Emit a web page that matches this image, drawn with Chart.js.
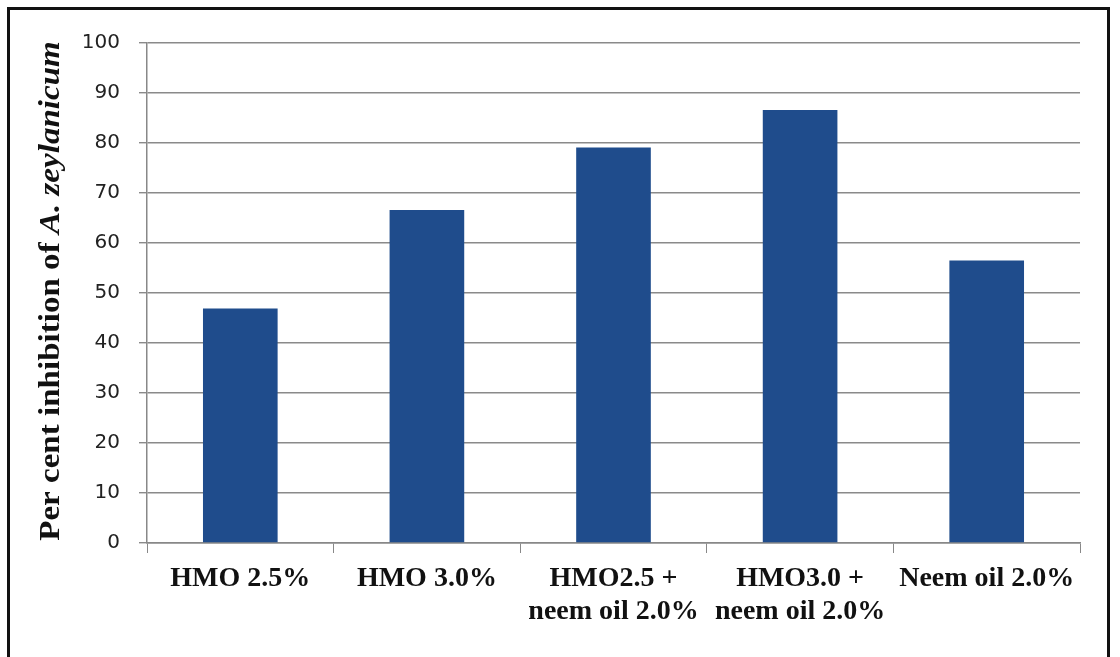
<!DOCTYPE html>
<html>
<head>
<meta charset="utf-8">
<script src="https://cdn.jsdelivr.net/npm/chart.js@4"></script>
<style>
  html, body { margin: 0; padding: 0; background: #fff; }
  #wrap { width: 1120px; height: 657px; }
</style>
</head>
<body>
<div id="wrap"><canvas id="my-chart" width="1120" height="657"></canvas></div>
<script>
// treatments and per cent inhibition
const treatments = [
  'HMO 2.5%',
  'HMO 3.0%',
  ['HMO2.5 +', 'neem oil 2.0%'],
  ['HMO3.0 +', 'neem oil 2.0%'],
  'Neem oil 2.0%'
];
const inhibition = [46.9, 66.6, 79.1, 86.6, 56.5];
const yTicks = [0, 10, 20, 30, 40, 50, 60, 70, 80, 90, 100];

// frame + mixed style axis title (plain bold, then italic species name)
const decor = {
  id: 'decor',
  afterDraw(chart) {
    const ctx = chart.ctx;
    const area = chart.chartArea;
    ctx.save();
    ctx.strokeStyle = '#111';
    ctx.lineWidth = 3;
    ctx.strokeRect(8.5, 8.5, 1100, 700);
    ctx.restore();

    const plain = 'Per cent inhibition of ';
    const ital = 'A. zeylanicum';
    const fPlain = 'bold 29px "Liberation Serif"';
    const fItal = 'italic bold 29px "Liberation Serif"';
    ctx.save();
    ctx.font = fPlain;
    const w1 = ctx.measureText(plain).width;
    ctx.font = fItal;
    const w2 = ctx.measureText(ital).width;
    ctx.translate(52, (area.top + area.bottom) / 2 - 2);
    ctx.rotate(-Math.PI / 2);
    ctx.scale(1.14, 1); // the scanned title is drawn a bit narrow/tall
    ctx.fillStyle = '#111';
    ctx.textBaseline = 'middle';
    ctx.textAlign = 'left';
    let x = -(w1 + w2) / 2;
    ctx.font = fPlain;
    ctx.fillText(plain, x, 0);
    ctx.font = fItal;
    ctx.fillText(ital, x + w1, 0);
    ctx.restore();
  }
};

const ctx = document.getElementById('my-chart').getContext('2d');
const chart = new Chart(ctx, {
  type: 'bar',
  data: {
    labels: treatments,
    datasets: [{
      label: 'Per cent inhibition',
      data: inhibition,
      backgroundColor: '#1F4C8C',
      borderWidth: 0,
      barPercentage: 0.5,
      categoryPercentage: 0.8
    }]
  },
  options: {
    responsive: false,
    animation: false,
    layout: { padding: { top: 43, right: 40, bottom: 0, left: 0 } },
    plugins: {
      legend: { display: false },
      tooltip: { enabled: false }
    },
    scales: {
      x: {
        grid: {
          offset: true,
          drawOnChartArea: false,
          tickLength: 10,
          color: '#888'
        },
        border: { color: '#888', width: 1.5 },
        ticks: {
          color: '#111',
          padding: 10,
          maxRotation: 0,
          autoSkip: false,
          font: { family: '"Liberation Serif"', weight: 'bold', size: 28, lineHeight: 1.15 }
        },
        afterFit(scale) { scale.height = 114; }
      },
      y: {
        min: 0,
        max: 100,
        afterBuildTicks(scale) { scale.ticks = yTicks.map(v => ({ value: v })); },
        grid: { color: '#8a8a8a', lineWidth: 1.4, tickLength: 8 },
        border: { color: '#888', width: 1.5 },
        ticks: {
          color: '#222',
          padding: 19,
          font: { family: '"DejaVu Sans"', size: 20 }
        },
        afterFit(scale) { scale.width = 147; }
      }
    }
  },
  plugins: [decor]
});
</script>
</body>
</html>
